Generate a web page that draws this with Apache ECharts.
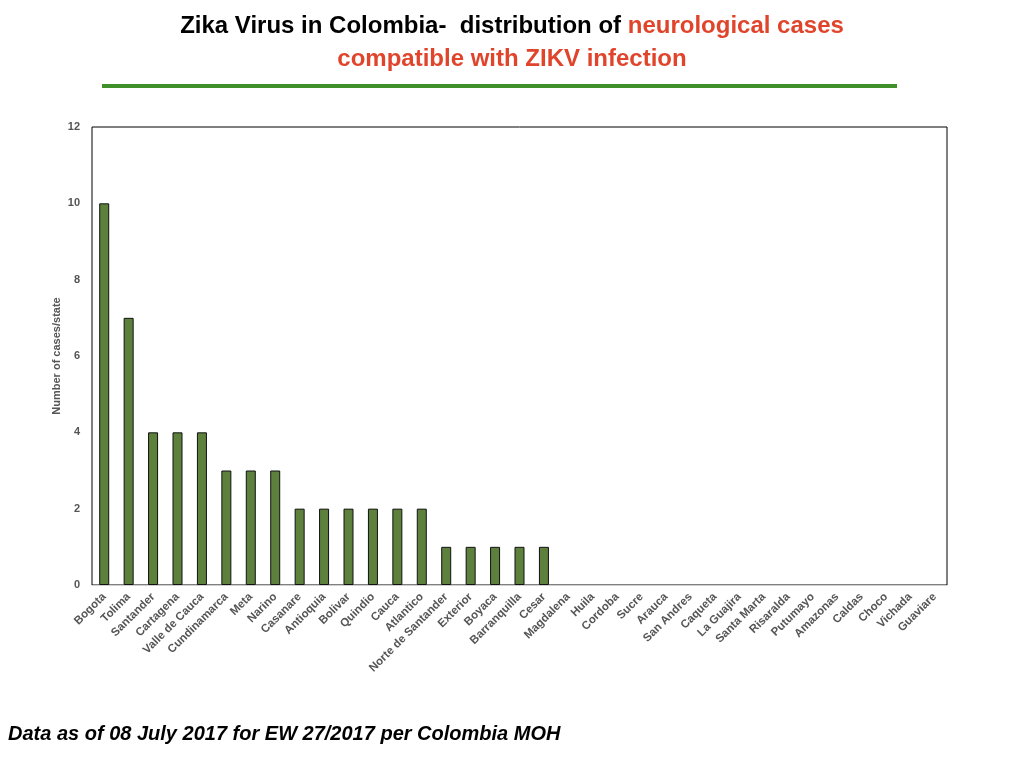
<!DOCTYPE html>
<html>
<head>
<meta charset="utf-8">
<script src="https://cdn.jsdelivr.net/npm/echarts@6/dist/echarts.min.js"></script>
<style>
  html, body { margin: 0; padding: 0; background: #fff; }
  #chart { width: 1024px; height: 768px; }
</style>
</head>
<body>
<div id="chart"></div>
<script>
// departments / cities
const categories = [
  'Bogota', 'Tolima', 'Santander', 'Cartagena', 'Valle de Cauca', 'Cundinamarca',
  'Meta', 'Narino', 'Casanare', 'Antioquia', 'Bolivar', 'Quindio', 'Cauca',
  'Atlantico', 'Norte de Santander', 'Exterior', 'Boyaca', 'Barranquilla', 'Cesar',
  'Magdalena', 'Huila', 'Cordoba', 'Sucre', 'Arauca', 'San Andres', 'Caqueta',
  'La Guajira', 'Santa Marta', 'Risaralda', 'Putumayo', 'Amazonas', 'Caldas',
  'Choco', 'Vichada', 'Guaviare'
];
// neurological cases per state
const cases = [
  10, 7, 4, 4, 4, 3,
  3, 3, 2, 2, 2, 2, 2,
  2, 1, 1, 1, 1, 1,
  0, 0, 0, 0, 0, 0, 0,
  0, 0, 0, 0, 0, 0,
  0, 0, 0
];

const chart = echarts.init(document.getElementById('chart'));
const font = '"Liberation Sans", Arial, sans-serif';

// no outline on empty bars
const barData = cases.map((v) => ({
  value: v,
  itemStyle: v === 0 ? { borderWidth: 0 } : undefined
}));

const option = {
  backgroundColor: '#fff',
  animation: false,
  title: {
    left: 'center',
    top: 5,
    text: '{b|Zika Virus in Colombia-  distribution of }{r|neurological cases}\n{r|compatible with ZIKV infection}',
    textStyle: {
      rich: {
        b: { fontFamily: font, fontWeight: 'bold', fontSize: 24, color: '#000', lineHeight: 33 },
        r: { fontFamily: font, fontWeight: 'bold', fontSize: 24, color: '#e0452c', lineHeight: 33 }
      }
    }
  },
  graphic: [
    {
      type: 'rect',
      shape: { x: 102, y: 84, width: 795, height: 4 },
      style: { fill: '#3f8f2b' }
    },
    {
      type: 'text',
      left: 8,
      top: 724,
      style: {
        text: 'Data as of 08 July 2017 for EW 27/2017 per Colombia MOH',
        font: 'italic bold 20px "Liberation Sans", Arial, sans-serif',
        fill: '#000'
      }
    }
  ],
  grid: {
    left: 92,
    right: 77,
    top: 127,
    bottom: 183,
    show: true,
    borderColor: '#000',
    borderWidth: 1
  },
  xAxis: {
    type: 'category',
    data: categories,
    axisLine: { show: true, lineStyle: { color: '#d0d0d0', width: 1 } },
    axisTick: { show: false },
    axisLabel: {
      interval: 0,
      rotate: 45,
      margin: 10,
      color: '#555',
      fontSize: 11.5,
      fontWeight: 'bold',
      fontFamily: font
    }
  },
  yAxis: {
    type: 'value',
    min: 0,
    max: 12,
    interval: 2,
    name: 'Number of cases/state',
    nameLocation: 'middle',
    nameGap: 30,
    nameMoveOverlap: false,
    nameTextStyle: {
      color: '#555',
      fontSize: 11,
      fontWeight: 'bold',
      fontFamily: font
    },
    axisLine: { show: false },
    axisTick: { show: false },
    splitLine: { show: false },
    axisLabel: {
      margin: 12,
      color: '#555',
      fontSize: 11,
      fontWeight: 'bold',
      fontFamily: font
    }
  },
  series: [
    {
      type: 'bar',
      data: barData,
      barWidth: 10,
      itemStyle: {
        color: '#5d813c',
        borderColor: '#111',
        borderWidth: 1
      }
    }
  ]
};

chart.setOption(option);
</script>
</body>
</html>
